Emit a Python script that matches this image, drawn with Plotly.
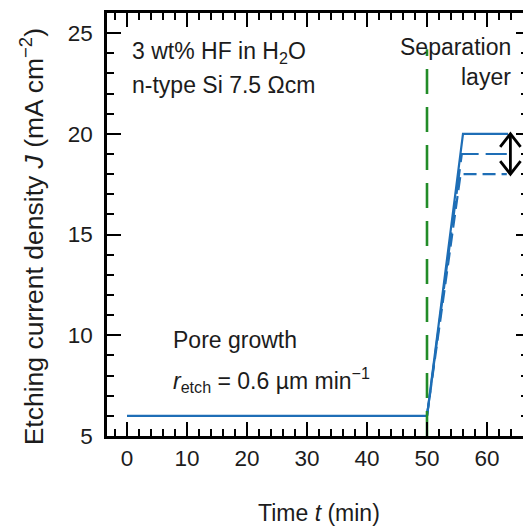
import plotly.graph_objects as go

# Etching current density J (mA cm^-2) versus time t (min)
pore_t = [0, 50, 56, 63.5]
pore_j = [6, 6, 20, 20]
sep_mid_t = [50, 55.8, 63.3]
sep_mid_j = [6, 19, 19]
sep_low_t = [50, 55.6, 63.3]
sep_low_j = [6, 18, 18]

switch_t = 50
switch_j = [5, 24.2]

arrow_t = 63.9
arrow_j = [18, 20]

x_ticks = [0, 10, 20, 30, 40, 50, 60]
y_ticks = [5, 10, 15, 20, 25]

X_RANGE = [-3.333, 66]
Y_RANGE = [5, 26]

BLUE = "rgb(30,110,182)"
GREEN = "rgb(34,140,40)"
TEXT = "#1c1c1c"
FONT = "Liberation Sans, Arial, Helvetica, sans-serif"

fig = go.Figure()

fig.add_trace(go.Scatter(x=pore_t, y=pore_j, mode="lines",
                         line=dict(color=BLUE, width=2.2), showlegend=False))
fig.add_trace(go.Scatter(x=sep_mid_t, y=sep_mid_j, mode="lines",
                         line=dict(color=BLUE, width=2.2, dash="25px,7px"), showlegend=False))
fig.add_trace(go.Scatter(x=sep_low_t, y=sep_low_j, mode="lines",
                         line=dict(color=BLUE, width=2.2, dash="13px,6px"), showlegend=False))

fig.add_trace(go.Scatter(x=[switch_t, switch_t], y=switch_j, mode="lines",
                         line=dict(color=GREEN, width=2.6, dash="25px,13px"), showlegend=False))

# double-headed arrow marking the spread of separation current densities
dx, dh = 1.7, 0.65
lo, hi = arrow_j
arrow_x = [arrow_t - dx, arrow_t, arrow_t + dx, None, arrow_t, arrow_t, None,
           arrow_t - dx, arrow_t, arrow_t + dx]
arrow_y = [hi - dh, hi, hi - dh, None, hi, lo, None, lo + dh, lo, lo + dh]
fig.add_trace(go.Scatter(x=arrow_x, y=arrow_y, mode="lines",
                         line=dict(color="black", width=2.8), showlegend=False))

# empty trace that carries the right-hand tick axis
fig.add_trace(go.Scatter(x=[0], y=[Y_RANGE[0]], yaxis="y2", mode="markers",
                         marker=dict(opacity=0), showlegend=False, hoverinfo="skip"))

tfont = dict(family=FONT, size=23, color=TEXT)
ann = [
    dict(x=0.5, y=24.05, text="3 wt% HF in H<sub>2</sub>O", xanchor="left", yanchor="middle"),
    dict(x=0.5, y=22.45, text="n-type Si 7.5 Ωcm", xanchor="left", yanchor="middle"),
    dict(x=64.4, y=24.3, text="Separation", xanchor="right", yanchor="middle"),
    dict(x=64.4, y=22.8, text="layer", xanchor="right", yanchor="middle"),
    dict(x=7.3, y=9.77, text="Pore growth", xanchor="left", yanchor="middle"),
    dict(x=7.3, y=7.8, text="<i>r</i><sub>etch</sub> = 0.6 µm min<sup>−1</sup>",
         xanchor="left", yanchor="middle"),
]
annotations = [dict(a, xref="x", yref="y", showarrow=False, font=tfont) for a in ann]
annotations.append(dict(xref="paper", yref="paper", x=0.51, y=-0.182,
                        text="Time <i>t</i> (min)", showarrow=False,
                        xanchor="center", yanchor="middle", font=tfont))
annotations.append(dict(xref="paper", yref="paper", x=-0.18, y=0.47,
                        text="Etching current density <i>J</i> (mA cm<sup>−2</sup>)",
                        showarrow=False, textangle=-90,
                        xanchor="center", yanchor="middle",
                        font=dict(family=FONT, size=26.5, color=TEXT)))

fig.update_layout(
    width=523, height=526,
    margin=dict(l=107, r=0, t=13, b=90),
    paper_bgcolor="white", plot_bgcolor="white",
    font=dict(family=FONT, size=22, color=TEXT),
    annotations=annotations,
    xaxis=dict(range=X_RANGE, tickmode="array", tickvals=x_ticks,
               ticks="inside", ticklen=14, tickwidth=2, tickcolor="black",
               showline=True, linewidth=2.5, linecolor="black", mirror="ticks",
               showgrid=False, zeroline=False,
               tickfont=dict(size=22.5, color=TEXT),
               minor=dict(tick0=0, dtick=2, ticks="inside", ticklen=7,
                          tickwidth=2, tickcolor="black", showgrid=False)),
    yaxis=dict(range=Y_RANGE, tickmode="array", tickvals=y_ticks,
               ticks="inside", ticklen=14, tickwidth=2, tickcolor="black",
               showline=True, linewidth=2.5, linecolor="black", mirror=False,
               showgrid=False, zeroline=False, ticklabelstandoff=7,
               tickfont=dict(size=22.5, color=TEXT),
               minor=dict(tick0=0, dtick=1, ticks="inside", ticklen=7,
                          tickwidth=2, tickcolor="black", showgrid=False)),
    yaxis2=dict(range=Y_RANGE, overlaying="y", side="right", tickmode="array",
                tickvals=y_ticks, ticks="inside", ticklen=7, tickwidth=2,
                tickcolor="black", showline=False, showgrid=False, zeroline=False,
                showticklabels=False,
                minor=dict(tick0=0, dtick=1, ticks="inside", ticklen=2,
                           tickwidth=2, tickcolor="black", showgrid=False)),
)

fig.write_html("out.html")
